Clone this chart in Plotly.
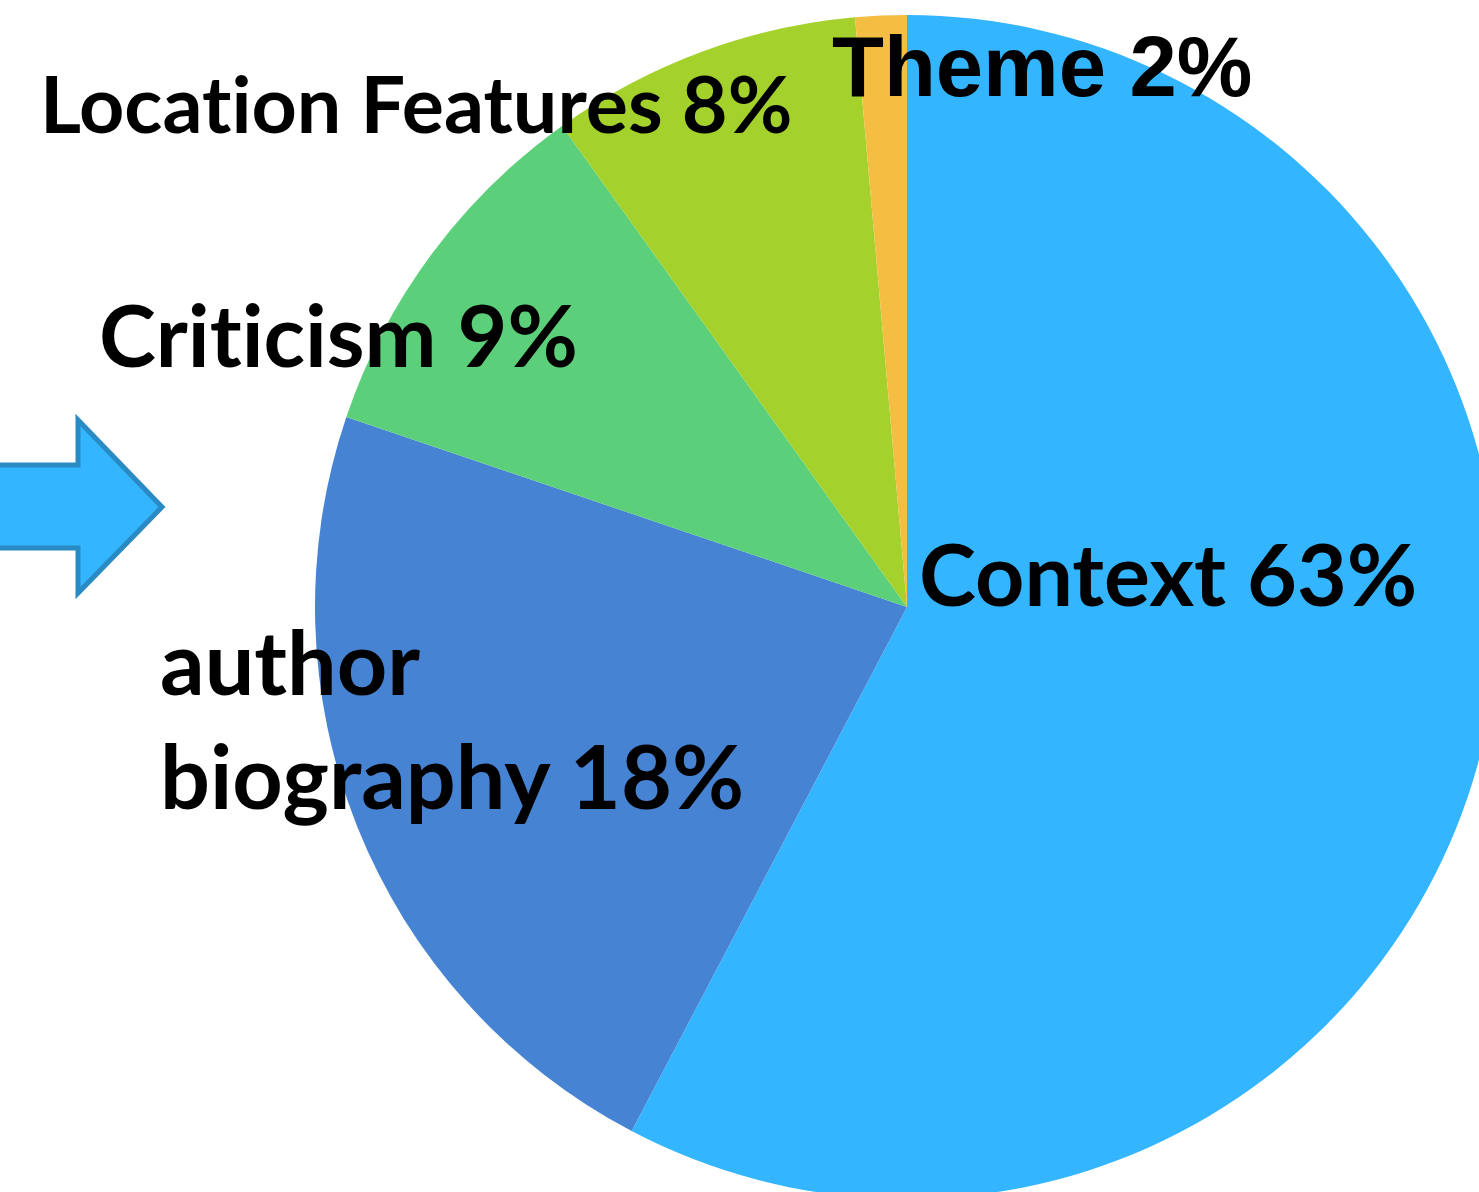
import plotly.graph_objects as go

categories = ["Context", "author biography", "Criticism", "Location Features", "Theme"]
values = [57.7, 22.5, 9.9, 8.5, 1.4]
label_texts = ["Context 63%", "author<br>biography 18%", "Criticism 9%", "Location Features 8%", "Theme 2%"]
colors = ["#33B5FF", "#4683D3", "#5BCF7A", "#A4D12B", "#F4BE42"]

W, H = 1500, 1200

def px(x):
    return x / W

def py(y):
    return 1 - y / H

fig = go.Figure(go.Pie(
    labels=categories,
    values=values,
    marker=dict(colors=colors, line=dict(width=0)),
    sort=False,
    direction="clockwise",
    rotation=0,
    textinfo="none",
    hoverinfo="none",
    showlegend=False,
    domain=dict(x=[px(315), px(1499)], y=[py(1199), py(15)]),
))

# label placement (left edge, vertical centre) in pixels
label_pos = [(917, 572), (158, 718), (97, 333), (38, 103), (830, 66)]
label_fonts = ["Lato", "Lato", "Lato", "Lato", "Liberation Sans"]
label_sizes = [86, 88, 86, 79, 85]

annotations = []
for t, (x, y), f, s in zip(label_texts, label_pos, label_fonts, label_sizes):
    shown = t.replace("ti", "t\u200ci")  # avoid the "ti" ligature
    annotations.append(dict(
        text="<b>" + shown + "</b>", x=px(x), y=py(y), xref="paper", yref="paper",
        xanchor="left", yanchor="middle", align="left", showarrow=False,
        font=dict(family=f, size=s, color="black"),
    ))

arrow_path = "M {} {} L {} {} L {} {} L {} {} L {} {} L {} {} L {} {} Z".format(
    px(-10), py(465), px(78), py(465), px(78), py(420), px(162), py(507),
    px(78), py(593), px(78), py(548), px(-10), py(548))

fig.update_layout(
    width=W, height=H,
    margin=dict(l=0, r=0, t=0, b=0),
    paper_bgcolor="white",
    plot_bgcolor="white",
    annotations=annotations,
    shapes=[dict(type="path", path=arrow_path, xref="paper", yref="paper",
                 fillcolor="#33B5FF", line=dict(color="#2A8AC4", width=5))],
)

fig.write_html(
    "out.html",
    config={"displayModeBar": False},
    post_script="document.body.style.margin='0';document.body.style.overflow='hidden';document.documentElement.style.overflow='hidden';",
)
